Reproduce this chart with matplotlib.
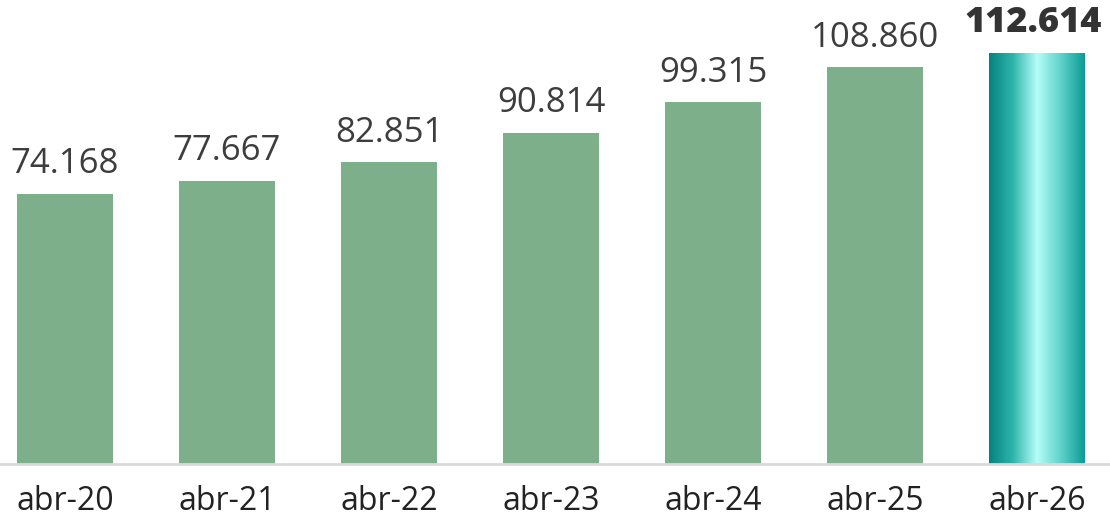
import numpy as np
import matplotlib.pyplot as plt
from matplotlib.colors import LinearSegmentedColormap

labels = ["abr-20", "abr-21", "abr-22", "abr-23", "abr-24", "abr-25", "abr-26"]
values = [74.168, 77.667, 82.851, 90.814, 99.315, 108.860, 112.614]
value_text = ["74.168", "77.667", "82.851", "90.814", "99.315", "108.860", "112.614"]

bar_color = "#7daf8a"
text_color = "#3d3d3d"

plt.rcParams["font.family"] = ["Open Sans", "DejaVu Sans"]

fig = plt.figure(figsize=(11.1, 5.2), dpi=100)
ax = fig.add_axes([0, 0.1077, 1, 0.8923])

x = np.arange(len(values))
bars = ax.bar(x, values, width=0.59, color=bar_color, zorder=2)

# gradient on the last bar
teal = LinearSegmentedColormap.from_list(
    "teal", ["#05837e", "#2fb5ad", "#b5fdf8", "#5fd2ca", "#0a9c93"])
last = bars[-1]
last.set_facecolor("none")
grad = np.linspace(0, 1, 256).reshape(1, -1)
ax.imshow(grad, cmap=teal, aspect="auto", zorder=2,
          extent=[last.get_x(), last.get_x() + last.get_width(), 0, last.get_height()])

for i, (v, t) in enumerate(zip(values, value_text)):
    if i == len(values) - 1:
        ax.annotate(t, (x[i], v), xytext=(-3, 9), textcoords="offset points",
                    ha="center", va="bottom", fontsize=26, fontweight="heavy",
                    color="#333333")
    else:
        ax.annotate(t, (x[i], v), xytext=(0, 9), textcoords="offset points",
                    ha="center", va="bottom", fontsize=25, color=text_color)

ax.set_xlim(-0.401, 6.45)
ax.set_ylim(0, 127.3)
ax.set_xticks(x)
ax.set_xticklabels(labels, fontsize=23, color="#222222")
ax.tick_params(axis="x", length=0, pad=15)
ax.set_yticks([])
for side in ["top", "left", "right"]:
    ax.spines[side].set_visible(False)
ax.spines["bottom"].set_color("#d9d9d9")
ax.spines["bottom"].set_linewidth(2)

fig.savefig("out.png", dpi=100)
